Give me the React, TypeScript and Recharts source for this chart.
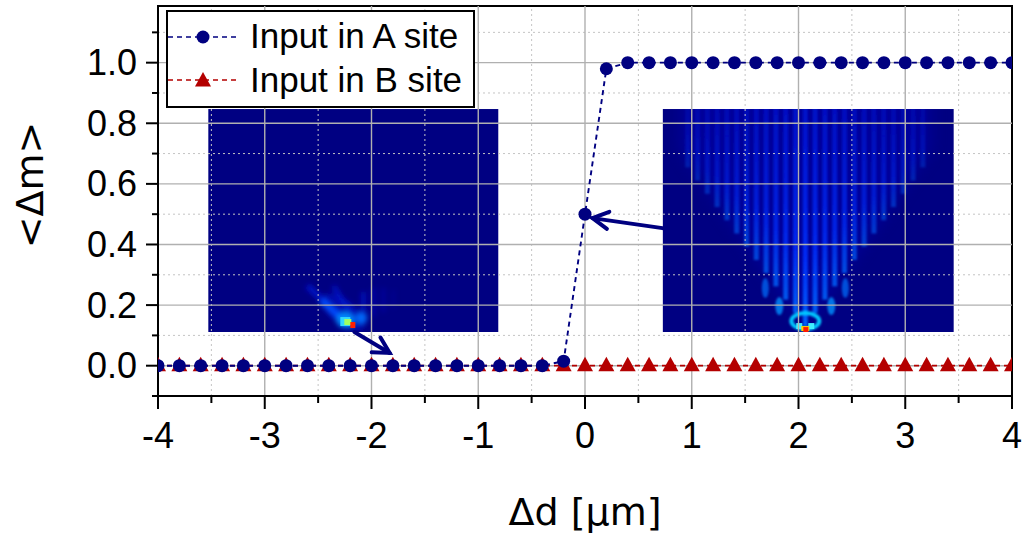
import React from "react";
import {
  LineChart,
  Line,
  XAxis,
  YAxis,
  ReferenceLine,
  ReferenceArea,
  Legend,
} from "recharts";

// detuning Δd [µm]
const D = [
  -4, -3.8, -3.6, -3.4, -3.2, -3, -2.8, -2.6, -2.4, -2.2, -2, -1.8, -1.6, -1.4, -1.2, -1, -0.8, -0.6, -0.4, -0.2,
  0, 0.2, 0.4, 0.6, 0.8, 1, 1.2, 1.4, 1.6, 1.8, 2, 2.2, 2.4, 2.6, 2.8, 3, 3.2, 3.4, 3.6, 3.8, 4,
];
const INPUT_A = [
  0, 0, 0, 0, 0, 0, 0, 0, 0, 0, 0, 0, 0, 0, 0, 0, 0, 0, 0, 0.015,
  0.5, 0.98, 1, 1, 1, 1, 1, 1, 1, 1, 1, 1, 1, 1, 1, 1, 1, 1, 1, 1, 1,
];
const INPUT_B = [
  0, 0, 0, 0, 0, 0, 0, 0, 0, 0, 0, 0, 0, 0, 0, 0, 0, 0, 0, 0,
  0, 0, 0, 0, 0, 0, 0, 0, 0, 0, 0, 0, 0, 0, 0, 0, 0, 0, 0, 0, 0,
];

const X_MAJOR = [-4, -3, -2, -1, 0, 1, 2, 3, 4];
const X_MINOR = [-3.5, -2.5, -1.5, -0.5, 0.5, 1.5, 2.5, 3.5];
const Y_MAJOR = [0, 0.2, 0.4, 0.6, 0.8, 1.0];
const Y_MINOR = [-0.1, 0.1, 0.3, 0.5, 0.7, 0.9, 1.1];

const data = D.map((d, i) => ({ d, a: INPUT_A[i], b: INPUT_B[i] }));

const NAVY = "#000080";
const RED = "#b40000";
const JET_BG = "#000082";
const FONT = "'Liberation Sans', Arial, sans-serif";
const TITLE_FONT = "'DejaVu Sans', sans-serif";

const isIn = (arr: number[], v: number) => arr.some((t) => Math.abs(t - v) < 1e-6);

const XTick = ({ x, y, payload }: any) => {
  const major = isIn(X_MAJOR, payload.value);
  return (
    <g>
      <line x1={x} y1={y} x2={x} y2={y + (major ? 13 : 7)} stroke="#000" strokeWidth={2} />
      {major && (
        <text x={x} y={y + 52} textAnchor="middle" fontSize={36} fontFamily={FONT} fill="#000">
          {payload.value}
        </text>
      )}
    </g>
  );
};

const YTick = ({ x, y, payload }: any) => {
  const major = isIn(Y_MAJOR, payload.value);
  return (
    <g>
      <line x1={x} y1={y} x2={x - (major ? 12 : 6)} y2={y} stroke="#000" strokeWidth={2} />
      {major && (
        <text x={x - 21} y={y + 12.5} textAnchor="end" fontSize={36} fontFamily={FONT} fill="#000">
          {payload.value.toFixed(1)}
        </text>
      )}
    </g>
  );
};

const Triangle = ({ cx, cy }: { cx: number; cy: number }) => (
  <polygon points={`${cx},${cy - 9} ${cx + 8},${cy + 5.5} ${cx - 8},${cy + 5.5}`} fill={RED} />
);

const TriangleDot = (props: any) => <Triangle key={`t-${props.index}`} cx={props.cx} cy={props.cy} />;

const Arrow = (props: any) => {
  const { x1, y1, x2, y2 } = props;
  const ang = Math.atan2(y2 - y1, x2 - x1);
  const len = 18;
  const w1 = ang + Math.PI - 0.5;
  const w2 = ang + Math.PI + 0.5;
  return (
    <g stroke={NAVY} strokeWidth={4} strokeLinecap="round" fill="none">
      <line x1={x1} y1={y1} x2={x2} y2={y2} />
      <polyline
        points={`${x2 + len * Math.cos(w1)},${y2 + len * Math.sin(w1)} ${x2},${y2} ${x2 + len * Math.cos(w2)},${y2 + len * Math.sin(w2)}`}
      />
    </g>
  );
};

// inset: wave packet staying localised (input in A site, Δd < 0)
const LocalisedInset = (props: any) => {
  const { x, y, width, height } = props;
  const hx = x + width * 0.493;
  const hy = y + height - 6;
  return (
    <g>
      <defs>
        <filter id="softL" x="-50%" y="-50%" width="200%" height="200%">
          <feGaussianBlur stdDeviation="2.5" />
        </filter>
        <clipPath id="clipL">
          <rect x={x} y={y} width={width} height={height} />
        </clipPath>
      </defs>
      <g clipPath="url(#clipL)">
        <rect x={x} y={y} width={width} height={height} fill={JET_BG} />
        <g filter="url(#softL)">
          <ellipse cx={hx - 8} cy={hy - 14} rx={26} ry={12} fill="#0010c0" opacity={0.7} transform={`rotate(38, ${hx - 8}, ${hy - 14})`} />
          <line x1={hx} y1={hy} x2={hx - 44} y2={hy - 40} stroke="#0018e0" strokeWidth={6} opacity={0.7} />
          <line x1={hx - 4} y1={hy - 2} x2={hx - 30} y2={hy - 26} stroke="#0050ff" strokeWidth={7} opacity={0.9} />
          <line x1={hx + 4} y1={hy - 6} x2={hx - 18} y2={hy - 40} stroke="#0018d8" strokeWidth={5} opacity={0.7} />
          <line x1={hx + 12} y1={hy - 4} x2={hx + 12} y2={hy - 34} stroke="#0014d0" strokeWidth={5} opacity={0.7} />
          <line x1={hx + 22} y1={hy - 10} x2={hx + 22} y2={hy - 38} stroke="#0010c0" strokeWidth={4} opacity={0.6} />
          <line x1={hx + 32} y1={hy - 14} x2={hx + 32} y2={hy - 38} stroke="#0008b8" strokeWidth={4} opacity={0.5} />
          <line x1={hx + 42} y1={hy - 18} x2={hx + 42} y2={hy - 36} stroke="#0008b0" strokeWidth={3} opacity={0.4} />
          <ellipse cx={hx + 10} cy={hy - 8} rx={6} ry={6} fill="#0070ff" opacity={0.9} />
          <ellipse cx={hx - 6} cy={hy - 6} rx={9} ry={8} fill="#0090ff" opacity={0.9} />
        </g>
        <rect x={hx - 11} y={hy - 9} width={10} height={9} fill="#30d8ff" />
        <rect x={hx - 7} y={hy - 7} width={7} height={6} fill="#a0ff60" />
        <rect x={hx - 1} y={hy - 4} width={5} height={6} fill="#ff2000" />
      </g>
    </g>
  );
};

// inset: ballistic spreading (input in A site, Δd > 0)
const STRIPES = [-12, -11, -10, -9, -8, -7, -6, -5, -4, -3, -2, -1, 0, 1, 2, 3, 4, 5, 6, 7, 8, 9, 10, 11, 12];
const SpreadingInset = (props: any) => {
  const { x, y, width, height } = props;
  const cx = x + width * 0.49;
  const bottom = y + height;
  return (
    <g>
      <defs>
        <linearGradient id="stripeG" x1="0" y1="1" x2="0" y2="0">
          <stop offset="0" stopColor="#0068ff" stopOpacity={1} />
          <stop offset="0.3" stopColor="#0030ff" stopOpacity={0.95} />
          <stop offset="1" stopColor="#0018e0" stopOpacity={0.7} />
        </linearGradient>
        <filter id="softR" x="-50%" y="-50%" width="200%" height="200%">
          <feGaussianBlur stdDeviation="1.3" />
        </filter>
        <filter id="softR2" x="-50%" y="-50%" width="200%" height="200%">
          <feGaussianBlur stdDeviation="8" />
        </filter>
        <clipPath id="clipR">
          <rect x={x} y={y} width={width} height={height} />
        </clipPath>
      </defs>
      <g clipPath="url(#clipR)">
        <rect x={x} y={y} width={width} height={height} fill={JET_BG} />
        <polygon
          points={`${cx},${bottom - 4} ${cx - 125},${y + 40} ${cx - 125},${y - 20} ${cx + 125},${y - 20} ${cx + 125},${y + 40}`}
          fill="#0000b0"
          opacity={0.5}
          filter="url(#softR2)"
        />
        <g filter="url(#softR)">
          {STRIPES.map((k) => {
            const dx = k * 9.8;
            const yb = bottom - 6 - Math.abs(dx) * 1.35;
            const top = y - 5;
            if (yb <= top) return null;
            return (
              <rect
                key={k}
                x={cx + dx - 2.5}
                y={top}
                width={5}
                height={yb - top}
                fill="url(#stripeG)"
                opacity={Math.max(0.3, 0.95 - Math.abs(k) * 0.055)}
              />
            );
          })}
          <ellipse cx={cx} cy={bottom - 11} rx={14} ry={8} fill="none" stroke="#00c8ff" strokeWidth={4} />
          <ellipse cx={cx - 26} cy={bottom - 26} rx={4} ry={9} fill="#0090ff" opacity={0.8} />
          <ellipse cx={cx + 26} cy={bottom - 26} rx={4} ry={9} fill="#0090ff" opacity={0.8} />
          <ellipse cx={cx - 40} cy={bottom - 44} rx={3.5} ry={10} fill="#0070ff" opacity={0.7} />
          <ellipse cx={cx + 40} cy={bottom - 44} rx={3.5} ry={10} fill="#0070ff" opacity={0.7} />
        </g>
        <rect x={cx - 9} y={bottom - 9} width={6} height={6} fill="#40f0ff" />
        <rect x={cx + 3} y={bottom - 9} width={6} height={6} fill="#40f0ff" />
        <rect x={cx - 4} y={bottom - 6} width={8} height={5} fill="#ffd000" />
        <rect x={cx - 2} y={bottom - 5} width={5} height={5} fill="#ff1a00" />
      </g>
    </g>
  );
};

const LegendBox = () => (
  <svg width={309} height={98} style={{ display: "block" }}>
    <rect x={1} y={1} width={307} height={96} fill="#fff" stroke="#000" strokeWidth={2} />
    <line x1={2} y1={27} x2={74} y2={27} stroke={NAVY} strokeWidth={1.6} strokeDasharray="5 4" />
    <circle cx={37} cy={27} r={6.5} fill={NAVY} />
    <text x={84} y={38} fontSize={35} fontFamily={FONT} fill="#000">
      Input in A site
    </text>
    <line x1={2} y1={70} x2={74} y2={70} stroke={RED} strokeWidth={1.6} strokeDasharray="5 4" />
    <Triangle cx={37} cy={71} />
    <text x={84} y={82} fontSize={35} fontFamily={FONT} fill="#000">
      Input in B site
    </text>
  </svg>
);

export default function App() {
  return (
    <div style={{ position: "absolute", left: 0, top: 0, background: "#fff" }}>
      <LineChart
        width={1028}
        height={539}
        data={data}
        margin={{ top: 6, right: 16, left: 18, bottom: 43 }}
        style={{ fontFamily: FONT }}
      >
        <XAxis
          dataKey="d"
          type="number"
          domain={[-4, 4]}
          ticks={[...X_MAJOR, ...X_MINOR].sort((p, q) => p - q)}
          interval={0}
          height={100}
          tickSize={0}
          tickMargin={0}
          tickLine={false}
          tick={XTick}
          axisLine={{ stroke: "#000", strokeWidth: 2 }}
          allowDataOverflow
          label={{
            content: ({ viewBox }: any) => (
              <text
                x={viewBox.x + viewBox.width / 2}
                y={viewBox.y + 129}
                textAnchor="middle"
                fontSize={38}
                fontFamily={TITLE_FONT}
                fill="#000"
              >
                Δd [μm]
              </text>
            ),
          }}
        />
        <YAxis
          type="number"
          domain={[-0.1, 1.187]}
          ticks={[...Y_MAJOR, ...Y_MINOR].sort((p, q) => p - q)}
          interval={0}
          width={140}
          tickSize={0}
          tickMargin={0}
          tickLine={false}
          tick={YTick}
          axisLine={{ stroke: "#000", strokeWidth: 2 }}
          allowDataOverflow
          label={{
            content: ({ viewBox }: any) => {
              const tx = viewBox.x + 25;
              const ty = viewBox.y + viewBox.height / 2 - 16;
              return (
                <text
                  x={tx}
                  y={ty}
                  transform={`rotate(-90, ${tx}, ${ty})`}
                  textAnchor="middle"
                  fontSize={38}
                  fontFamily={TITLE_FONT}
                  fill="#000"
                >
                  {"<Δm>"}
                </text>
              );
            },
          }}
        />

        {X_MINOR.map((v) => (
          <ReferenceLine key={`xm${v}`} x={v} stroke="#c4c4c4" strokeWidth={1} strokeDasharray="2 3" />
        ))}
        {Y_MINOR.map((v) => (
          <ReferenceLine key={`ym${v}`} y={v} stroke="#c4c4c4" strokeWidth={1} strokeDasharray="2 3" />
        ))}
        {X_MAJOR.slice(1, -1).map((v) => (
          <ReferenceLine key={`xM${v}`} x={v} stroke="#b0b0b0" strokeWidth={1.4} />
        ))}
        {Y_MAJOR.map((v) => (
          <ReferenceLine key={`yM${v}`} y={v} stroke="#b0b0b0" strokeWidth={1.4} />
        ))}

        <ReferenceArea x1={-3.53} x2={-0.81} y1={0.111} y2={0.847} shape={LocalisedInset} ifOverflow="visible" />
        <ReferenceArea x1={0.727} x2={3.455} y1={0.111} y2={0.847} shape={SpreadingInset} ifOverflow="visible" />
        <ReferenceLine
          segment={[
            { x: -2.16, y: 0.111 },
            { x: -1.83, y: 0.042 },
          ]}
          shape={Arrow}
          ifOverflow="visible"
        />
        <ReferenceLine
          segment={[
            { x: 0.726, y: 0.454 },
            { x: 0.07, y: 0.487 },
          ]}
          shape={Arrow}
          ifOverflow="visible"
        />
        <ReferenceArea
          x1={-4}
          x2={4}
          y1={-0.1}
          y2={1.187}
          fill="none"
          fillOpacity={0}
          stroke="#000"
          strokeWidth={2}
          ifOverflow="visible"
        />

        <Line
          type="linear"
          dataKey="b"
          stroke={RED}
          strokeWidth={1.7}
          strokeDasharray="5 4"
          dot={TriangleDot}
          activeDot={false}
          isAnimationActive={false}
        />
        <Line
          type="linear"
          dataKey="a"
          stroke={NAVY}
          strokeWidth={1.9}
          strokeDasharray="5 4"
          dot={{ r: 6.5, fill: NAVY, stroke: "none" }}
          activeDot={false}
          isAnimationActive={false}
        />
        <Legend
          layout="vertical"
          align="center"
          verticalAlign="middle"
          wrapperStyle={{ left: 166, top: 10, width: 309, height: 98 }}
          content={LegendBox}
        />
      </LineChart>
    </div>
  );
}
